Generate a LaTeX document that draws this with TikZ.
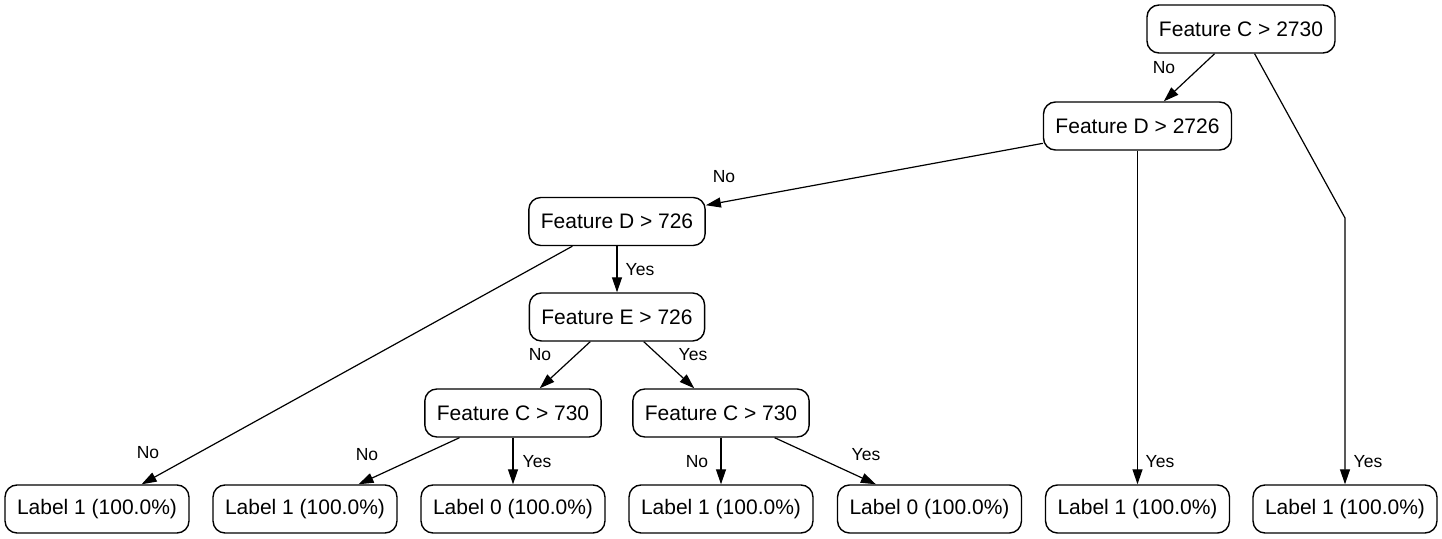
\documentclass[tikz,border=0pt]{standalone}
\usepackage{fontspec}
\setmainfont{Liberation Sans}
\usetikzlibrary{arrows.meta}

\tikzset{
  test/.style={draw, rounded corners=6pt, line width=0.7pt, minimum height=24pt,
    inner xsep=6pt, inner ysep=2pt, font=\fontsize{10.5}{12}\selectfont},
  answer/.style={inner sep=0pt, font=\fontsize{8.75}{10}\selectfont},
  branch/.style={line width=0.6pt, -{Triangle[length=7.5pt,width=5pt]}}
}

\begin{document}
\begin{tikzpicture}[x=0.5pt, y=-0.5pt]
	\useasboundingbox (0,0) rectangle (1442,539);

	% tests
	\node[test] (c2730) at (1241,29) {Feature C > 2730};
	\node[test] (d2726) at (1137.5,126) {Feature D > 2726};
	\node[test] (d726) at (617,221.5) {Feature D > 726};
	\node[test] (e726) at (617,317) {Feature E > 726};
	\node[test] (c730a) at (513,413) {Feature C > 730};
	\node[test] (c730b) at (721,413) {Feature C > 730};

	% leaves
	\node[test] (leafa) at (97,509) {Label 1 (100.0\%)};
	\node[test] (leafb) at (305,509) {Label 1 (100.0\%)};
	\node[test] (leafc) at (513,509) {Label 0 (100.0\%)};
	\node[test] (leafd) at (721,509) {Label 1 (100.0\%)};
	\node[test] (leafe) at (929.5,509) {Label 0 (100.0\%)};
	\node[test] (leaff) at (1137.5,509) {Label 1 (100.0\%)};
	\node[test] (leafg) at (1345,509) {Label 1 (100.0\%)};

	\coordinate (bend) at (1345,218);

	\draw[branch] (c2730) -- (d2726);
	\draw[branch] (c2730) -- (bend) -- (leafg);
	\draw[branch] (d2726) -- (d726);
	\draw[branch] (d2726) -- (leaff);
	\draw[branch] (d726) -- (leafa);
	\draw[branch] (d726) -- (e726);
	\draw[branch] (e726) -- (c730a);
	\draw[branch] (e726) -- (c730b);
	\draw[branch] (c730a) -- (leafb);
	\draw[branch] (c730a) -- (leafc);
	\draw[branch] (c730b) -- (leafd);
	\draw[branch] (c730b) -- (leafe);

	% answers
	\node[answer] (n1) at (1164,68) {No};
	\node[answer] (y1) at (1368,462) {Yes};
	\node[answer] (n2) at (724,177) {No};
	\node[answer] (y2) at (1160,462) {Yes};
	\node[answer] (y3) at (640,270) {Yes};
	\node[answer] (n3) at (148,453) {No};
	\node[answer] (n4) at (540,355) {No};
	\node[answer] (y4) at (693,355) {Yes};
	\node[answer] (n5) at (367,455) {No};
	\node[answer] (y5) at (537,462) {Yes};
	\node[answer] (n6) at (697,462) {No};
	\node[answer] (y6) at (866,455) {Yes};
\end{tikzpicture}
\end{document}
